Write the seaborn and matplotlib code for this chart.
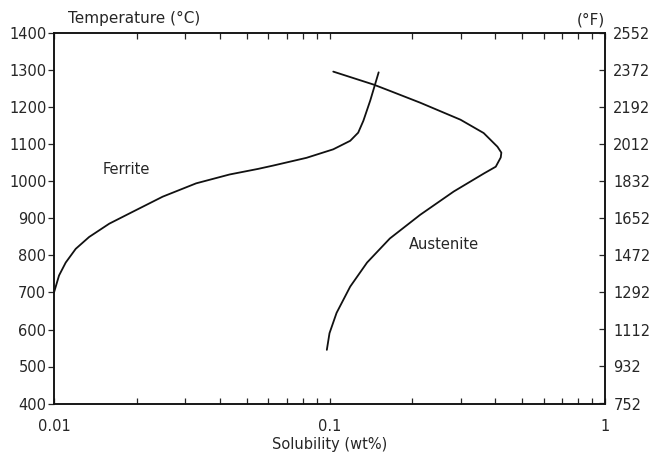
import matplotlib
matplotlib.use("Agg")
import matplotlib.pyplot as plt
import seaborn as sns
import pandas as pd
import numpy as np
from matplotlib.ticker import LogLocator, NullFormatter

sns.set_style("ticks")
plt.rcParams['font.family'] = ['DejaVu Sans']

ferrite_x = [0.0100, 0.01043, 0.01103, 0.01199, 0.01341, 0.01587, 0.01929, 0.0248,
             0.0328, 0.0434, 0.0550, 0.0624, 0.0825, 0.1032, 0.1189, 0.1271,
             0.1327, 0.1406, 0.1508]
ferrite_t = [700, 746, 781, 818, 850, 886, 918, 959,
             995, 1019, 1034, 1043, 1064, 1087, 1110, 1132,
             1164, 1219, 1295]

austenite_x = [0.1032, 0.1445, 0.1656, 0.2134, 0.2989, 0.3627, 0.4070, 0.4205, 0.4184,
               0.4013, 0.3640, 0.2825, 0.2134, 0.1656, 0.1369, 0.1189, 0.1061, 0.1000,
               0.0978]
austenite_t = [1297, 1262, 1245, 1213, 1167, 1131, 1094, 1078, 1065,
               1040, 1022, 973, 910, 846, 781, 716, 645, 590,
               545]

c_ticks = [400, 500, 600, 700, 800, 900, 1000, 1100, 1200, 1300, 1400]
f_labels = ["752", "932", "1112", "1292", "1472", "1652", "1832", "2012", "2192", "2372", "2552"]
x_ticks = [0.01, 0.1, 1]
x_labels = ["0.01", "0.1", "1"]

df_f = pd.DataFrame({"x": ferrite_x, "t": ferrite_t})
df_a = pd.DataFrame({"x": austenite_x, "t": austenite_t})

fig = plt.figure(figsize=(6.55, 4.63), dpi=100)
ax = fig.add_axes([54/655, 1-403.5/463, (605-54)/655, (403.5-33.5)/463])

sns.lineplot(data=df_f, x="x", y="t", sort=False, estimator=None, color="#111111", lw=1.3, ax=ax)
sns.lineplot(data=df_a, x="x", y="t", sort=False, estimator=None, color="#111111", lw=1.3, ax=ax)

fs = 10.5
ax.set_xscale("log")
ax.set_xlim(0.01, 1)
ax.set_ylim(400, 1400)
ax.set_xticks(x_ticks)
ax.set_xticklabels(x_labels, fontsize=fs)
ax.xaxis.set_minor_locator(LogLocator(base=10, subs=np.arange(2, 10)))
ax.xaxis.set_minor_formatter(NullFormatter())
ax.set_yticks(c_ticks)
ax.set_yticklabels([str(c) for c in c_ticks], fontsize=fs)
ax.tick_params(axis="x", which="both", direction="in", top=True, bottom=True, length=4, width=0.9, pad=11)
ax.tick_params(axis="y", which="major", direction="out", length=4.5, width=0.9, pad=1)
ax.set_xlabel("Solubility (wt%)", fontsize=fs, labelpad=2)
ax.set_ylabel("")
for s in ax.spines.values():
    s.set_visible(True)
    s.set_linewidth(1.1)
    s.set_color("#111111")

ax2 = ax.twinx()
ax2.set_ylim(400, 1400)
ax2.set_yticks(c_ticks)
ax2.set_yticklabels(f_labels, fontsize=fs)
ax2.tick_params(axis="y", direction="in", length=4.5, width=0.9, pad=6)
for s in ax2.spines.values():
    s.set_linewidth(1.1)
    s.set_color("#111111")

ax.text((68-54)/551, 1 + (33.5-18.5)/370, "Temperature (°C)", transform=ax.transAxes,
        fontsize=11, ha="left", va="center")
ax.text(1.0, 1 + (33.5-20)/370, "(°F)", transform=ax.transAxes, fontsize=11, ha="right", va="center")

ax.text(0.01824, 1032, "Ferrite", fontsize=fs, ha="center", va="center")
ax.text(0.2598, 831, "Austenite", fontsize=fs, ha="center", va="center")

fig.savefig("out.png", dpi=100)
